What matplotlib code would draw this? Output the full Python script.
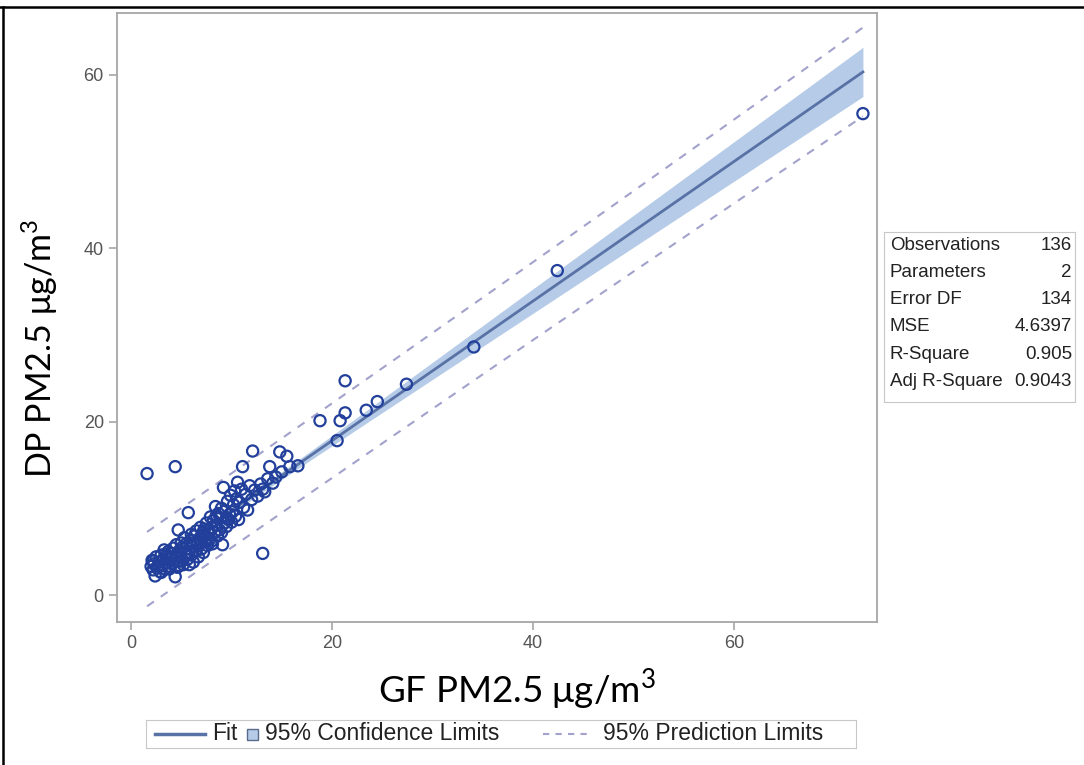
import numpy as np
import matplotlib
matplotlib.use("Agg")
import matplotlib.pyplot as plt
from matplotlib.lines import Line2D
from matplotlib.patches import Rectangle

plt.rcParams['font.family'] = ['Liberation Sans', 'DejaVu Sans']
plt.rcParams['mathtext.fontset'] = 'custom'
plt.rcParams['mathtext.rm'] = 'Lato'

# ---data----------------------------------------------------------------
gf = [2.0, 2.1, 2.2, 2.3, 2.4, 2.5, 2.6, 2.8, 2.9, 3.0,
      3.1, 3.2, 3.3, 3.4, 3.5, 3.6, 3.7, 3.8, 3.9, 4.0,
      4.1, 4.2, 4.3, 4.4, 4.4, 4.5, 4.6, 4.7, 4.8, 4.9,
      5.0, 5.0, 5.1, 5.2, 5.3, 5.4, 5.5, 5.6, 5.7, 5.8,
      5.9, 6.0, 6.0, 6.1, 6.2, 6.3, 6.4, 6.5, 6.6, 6.7,
      6.8, 6.9, 7.0, 7.1, 7.2, 7.3, 7.4, 7.5, 7.6, 7.7,
      7.8, 7.9, 8.0, 8.1, 8.2, 8.3, 8.4, 8.5, 8.6, 8.7,
      8.8, 8.9, 9.0, 9.1, 9.2, 9.3, 9.4, 9.5, 9.6, 9.7,
      9.8, 9.9, 10.0, 10.2, 10.3, 10.4, 10.5, 10.6, 10.7, 10.8,
      11.0, 11.1, 11.2, 11.4, 11.6, 11.8, 12.0, 12.1, 12.3, 12.6,
      12.9, 13.1, 13.1, 13.3, 13.6, 13.8, 14.1, 14.4, 14.8, 15.0,
      15.5, 15.8, 16.6, 1.6, 18.8, 20.5, 20.8, 21.3, 21.3, 23.4,
      24.5, 27.4, 34.1, 42.4, 72.8,
      2.2, 2.7, 3.0, 3.4, 3.8, 4.1, 4.5, 4.8, 5.1, 5.5,
      5.8, 6.2, 6.5, 6.9, 7.2, 7.6, 8.0, 8.5, 9.0, 9.5, 10.1]
dp = [3.3, 4.0, 2.9, 3.6, 2.2, 4.4, 3.1, 3.8, 2.7, 4.6,
      3.4, 4.1, 5.2, 3.0, 4.4, 3.7, 5.0, 4.2, 3.3, 4.8,
      3.6, 5.4, 4.0, 2.1, 14.8, 4.5, 3.2, 7.5, 5.1, 3.9,
      6.0, 4.3, 5.5, 3.5, 6.6, 4.8, 5.9, 4.1, 9.5, 5.3,
      6.3, 4.6, 7.0, 5.6, 3.8, 6.8, 5.0, 7.4, 5.8, 4.4,
      6.5, 7.8, 5.3, 6.9, 4.9, 7.6, 6.1, 8.3, 5.7, 7.1,
      6.4, 9.0, 7.8, 5.9, 8.6, 7.2, 10.2, 8.0, 6.8, 9.4,
      7.5, 8.9, 10.0, 5.8, 12.4, 8.3, 9.7, 7.9, 10.8, 8.7,
      9.3, 11.5, 8.4, 10.4, 12.0, 9.1, 11.1, 13.0, 8.7, 10.7,
      12.2, 14.8, 10.1, 11.6, 9.8, 12.6, 11.0, 16.6, 12.1, 11.4,
      12.8, 12.2, 4.8, 11.9, 13.4, 14.8, 12.9, 13.6, 16.5, 14.2,
      16.0, 14.8, 14.9, 14.0, 20.1, 17.8, 20.1, 24.7, 21.0, 21.3,
      22.3, 24.3, 28.6, 37.4, 55.5,
      3.9, 3.4, 2.6, 4.7, 3.0, 4.4, 5.8, 3.4, 4.0, 4.6,
      3.5, 6.0, 5.2, 6.0, 7.3, 6.6, 6.2, 9.2, 7.2, 8.9, 9.6]

# fit statistics
intercept = 1.7
slope = 0.805
t_crit = 1.978
stat_names = ['Observations', 'Parameters', 'Error DF', 'MSE', 'R-Square', 'Adj R-Square']
stat_values = ['136', '2', '134', '4.6397', '0.905', '0.9043']
mse = float(stat_values[3])

x_ticks = [0, 20, 40, 60]
y_ticks = [0, 20, 40, 60]

# ---colours----------------------------------------------------------------
marker_col = '#22409b'
fit_col = '#5872a6'
band_col = '#b6cbe7'
pred_col = '#a2a2cc'
frame_col = '#a6a6a6'
text_col = '#555555'

# ---bands-----------------------------------------------------------------
x = np.array(gf)
n = len(x)
xbar = x.mean()
sxx = ((x - xbar) ** 2).sum()
xs = np.linspace(x.min(), x.max(), 300)
yfit = intercept + slope * xs
se_mean = np.sqrt(mse * (1.0 / n + (xs - xbar) ** 2 / sxx))
se_pred = np.sqrt(mse * (1.0 + 1.0 / n + (xs - xbar) ** 2 / sxx))

# ---figure------------------------------------------------------------------
fig = plt.figure(figsize=(10.84, 7.65), dpi=100)
ax = fig.add_axes([117 / 1084, 1 - 622 / 765, 760 / 1084, 609 / 765])

ax.fill_between(xs, yfit - t_crit * se_mean, yfit + t_crit * se_mean,
                color=band_col, lw=0, zorder=1)
ax.plot(xs, yfit, color=fit_col, lw=2, zorder=2)
ax.plot(xs, yfit - t_crit * se_pred, color=pred_col, lw=1.5, ls=(0, (4, 4)), zorder=2)
ax.plot(xs, yfit + t_crit * se_pred, color=pred_col, lw=1.5, ls=(0, (4, 4)), zorder=2)
ax.scatter(gf, dp, s=65, facecolors='none', edgecolors=marker_col, linewidths=1.6, zorder=3)

ax.set_xlim(-1.39, 74.2)
ax.set_ylim(-3.11, 67.1)
ax.set_xticks(x_ticks)
ax.set_yticks(y_ticks)
for s in ax.spines.values():
    s.set_color(frame_col)
    s.set_linewidth(1.3)
ax.tick_params(colors=frame_col, labelcolor=text_col, labelsize=13, length=6, width=1.2)

fig.text(517 / 1084, 1 - 690 / 765, r'GF PM2.5 μg/m$^{\mathregular{3}}$',
         fontsize=26.5, family='Lato', ha='center', va='center')
fig.text(40 / 1084, 1 - 348 / 765, r'DP PM2.5 μg/m$^{\mathregular{3}}$',
         fontsize=24.5, family='Lato', ha='center', va='center', rotation=90)

# ---fit statistics box----------------------------------------------------
sax = fig.add_axes([884 / 1084, 1 - 402 / 765, 191 / 1084, 170 / 765])
sax.set_xticks([])
sax.set_yticks([])
for s in sax.spines.values():
    s.set_color('#c8c8c8')
for i, (nm, val) in enumerate(zip(stat_names, stat_values)):
    yy = 1 - (13 + 27.3 * i) / 170
    sax.text(6 / 191, yy, nm, fontsize=13.5, color='#222222', va='center', ha='left',
             transform=sax.transAxes)
    sax.text(188 / 191, yy, val, fontsize=13.5, color='#222222', va='center', ha='right',
             transform=sax.transAxes)

# ---legend-----------------------------------------------------------------
lax = fig.add_axes([146 / 1084, 1 - 748 / 765, 710 / 1084, 28 / 765])
lax.set_xlim(146, 856)
lax.set_ylim(748, 720)
lax.set_xticks([])
lax.set_yticks([])
for s in lax.spines.values():
    s.set_color('#c8c8c8')
lax.plot([155, 205], [734, 734], color=fit_col, lw=2.5)
lax.text(212, 734, 'Fit', fontsize=16.5, color='#222222', va='center')
lax.add_patch(Rectangle((247, 729), 11, 11, facecolor=band_col, edgecolor='#5a6a8a', lw=1))
lax.text(265, 734, '95% Confidence Limits', fontsize=16.5, color='#222222', va='center')
lax.plot([543, 592], [734, 734], color=pred_col, lw=1.5, ls=(0, (3, 3)))
lax.text(603, 734, '95% Prediction Limits', fontsize=16.5, color='#222222', va='center')

# ---outer frame--------------------------------------------------------------
fig.add_artist(Line2D([0, 1], [1 - 7 / 765, 1 - 7 / 765], color='black', lw=1.8,
                      transform=fig.transFigure))
fig.add_artist(Line2D([3 / 1084, 3 / 1084], [0, 1 - 7 / 765], color='black', lw=1.8,
                      transform=fig.transFigure))

fig.savefig('out.png', dpi=100)
